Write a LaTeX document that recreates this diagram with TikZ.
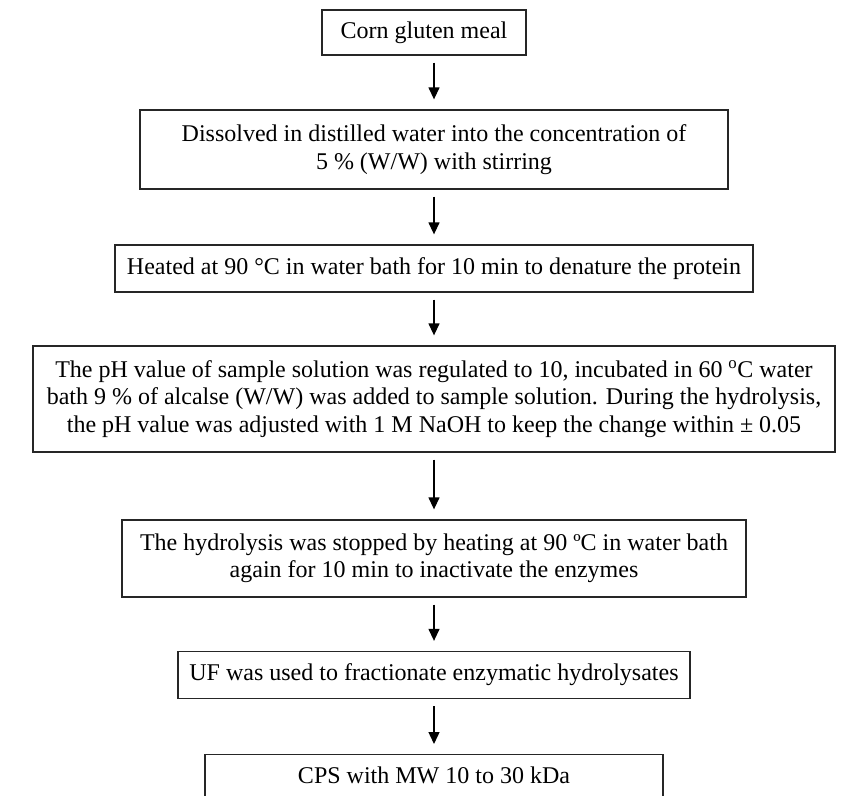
\documentclass[tikz,border=0pt]{standalone}
\usepackage{fontspec}
\setmainfont{Liberation Serif}
\usetikzlibrary{arrows.meta}
\begin{document}
\begin{tikzpicture}[x=1pt,y=-1pt,
  box/.style={draw=black!85, line width=1.3pt, rectangle, align=center, inner sep=0pt,
    font=\fontsize{24}{27.5}\selectfont},
  flow/.style={line width=1.3pt, shorten <=7pt, shorten >=10pt,
    -{Triangle[width=11pt,length=12pt]}}]
\path[use as bounding box] (0,0) rectangle (845,795);
\clip (0,0) rectangle (845,795);
\node[box, minimum width=204, minimum height=45] (b1) at (424,32.5) {Corn gluten meal};
\node[box, minimum width=588, minimum height=79] (b2) at (434,149.5)
  {Dissolved in distilled water into the concentration of\\5 \% (W/W) with stirring};
\node[box, minimum width=638, minimum height=47] (b3) at (434,268.5)
  {Heated at 90 °C in water bath for 10 min to denature the protein};
\node[box, minimum width=802, minimum height=106] (b4) at (434,399)
  {The pH value of sample solution was regulated to 10, incubated in 60 \textsuperscript{o}C water\\
   bath 9 \% of alcalse (W/W) was added to sample solution. During the hydrolysis,\\
   the pH value was adjusted with 1 M NaOH to keep the change within ± 0.05};
\node[box, minimum width=624, minimum height=77] (b5) at (434,558.5)
  {The hydrolysis was stopped by heating at 90 ºC in water bath\\again for 10 min to inactivate the enzymes};
\node[box, minimum width=512, minimum height=47] (b6) at (434,675)
  {UF was used to fractionate enzymatic hydrolysates};
\node[box, minimum width=458, anchor=north, text height=29pt, text depth=60pt] (b7) at (434,754)
  {CPS with MW 10 to 30 kDa};
\draw[flow] (b1.south -| b2.north) -- (b2.north);
\draw[flow] (b2) -- (b3);
\draw[flow] (b3) -- (b4);
\draw[flow] (b4) -- (b5);
\draw[flow] (b5) -- (b6);
\draw[flow] (b6) -- (b7);
\end{tikzpicture}
\end{document}
